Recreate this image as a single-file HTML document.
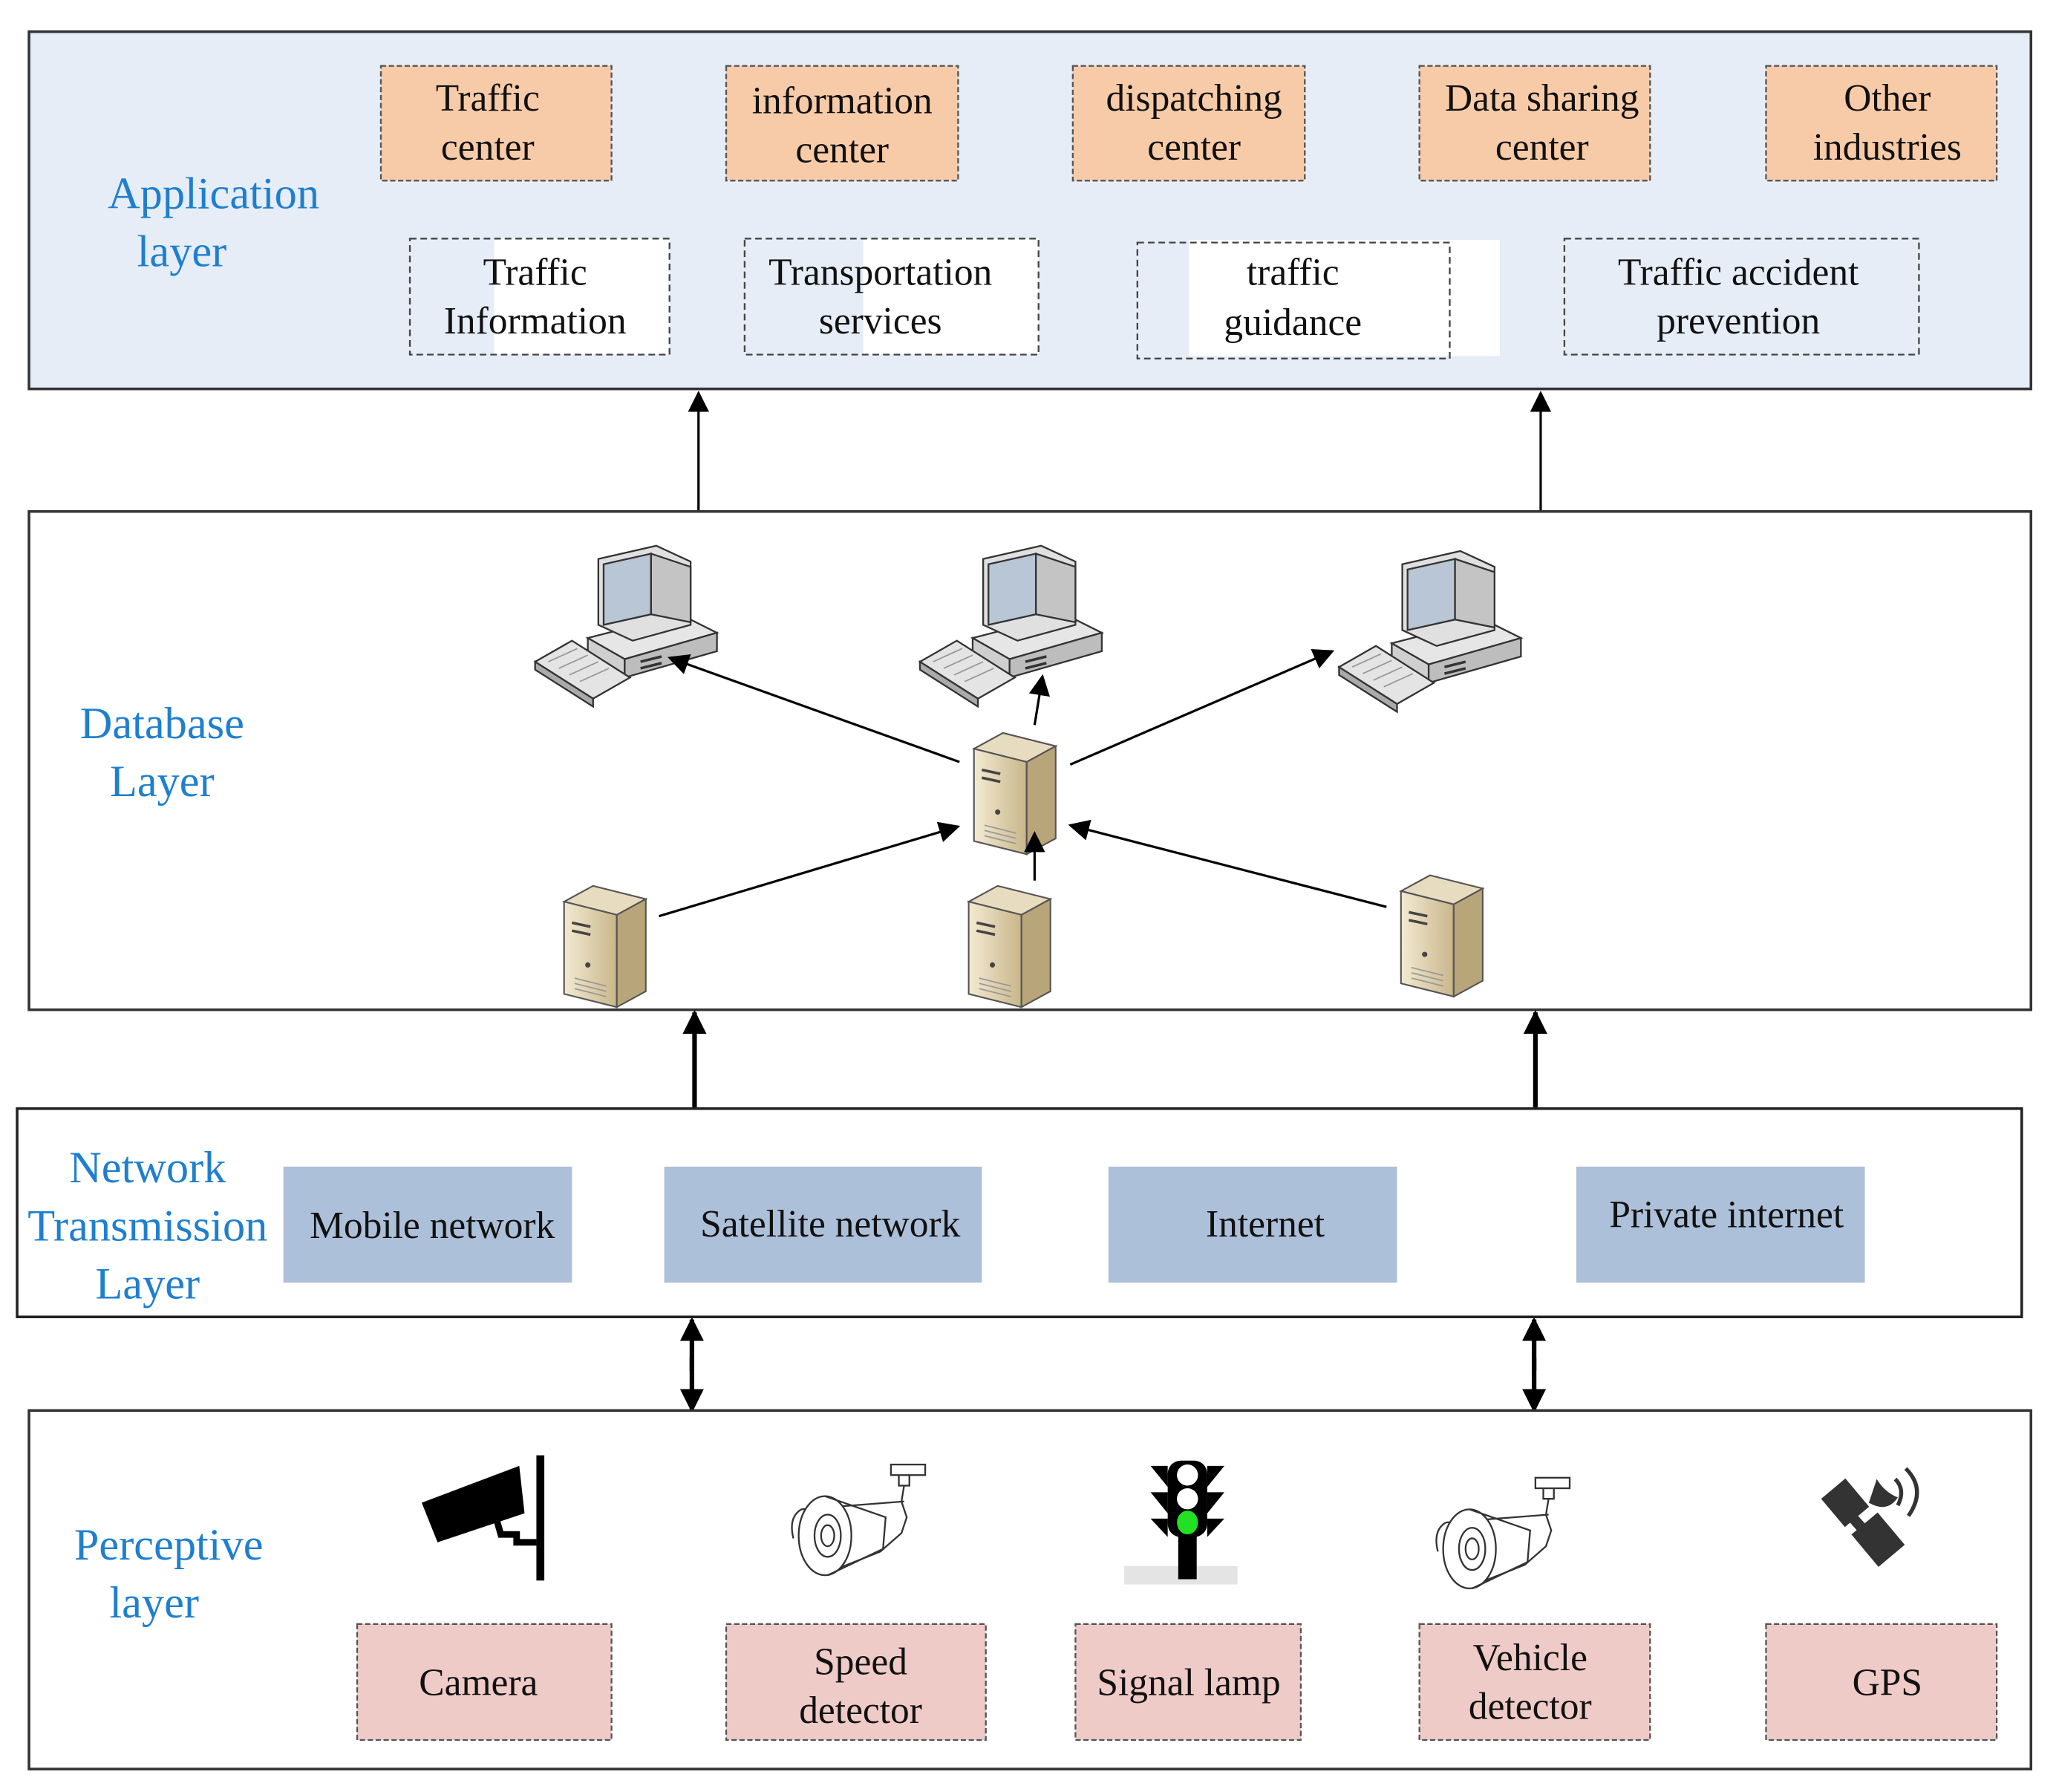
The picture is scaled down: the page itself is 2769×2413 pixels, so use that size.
<!DOCTYPE html>
<html><head><meta charset="utf-8"><style>
html,body{margin:0;padding:0;background:#fff}
svg{display:block}
text{font-family:"Liberation Serif","Times New Roman",serif;fill:#111}
.lb{fill:#1f7fcf;font-size:34px}
.bt{font-size:29px}
</style></head><body>
<svg width="2769" height="2413" viewBox="0 0 1560 1359.4" xmlns="http://www.w3.org/2000/svg">
<defs>
<marker id="ah2" viewBox="0 0 10 10" refX="9" refY="5" markerWidth="22" markerHeight="16" markerUnits="userSpaceOnUse" orient="auto"><path d="M0,0 L10,5 L0,10 z" fill="#000"/></marker>
<marker id="ah3" viewBox="0 0 10 10" refX="9" refY="5" markerWidth="32" markerHeight="18" markerUnits="userSpaceOnUse" orient="auto"><path d="M0,0 L10,5 L0,10 z" fill="#000"/></marker>
<linearGradient id="sv" x1="0" x2="1"><stop offset="0" stop-color="#f3ead2"/><stop offset="1" stop-color="#c9b68a"/></linearGradient>
<g id="server">
<path d="M0,12 L22,0 L62,10 L40,22 z" fill="#e8dcc0" stroke="#555" stroke-width="1.2"/>
<path d="M0,12 L40,22 L40,92 L0,82 z" fill="url(#sv)" stroke="#555" stroke-width="1.2"/>
<path d="M40,22 L62,10 L62,80 L40,92 z" fill="#b9a57a" stroke="#555" stroke-width="1.2"/>
<path d="M6,28 L20,31 M6,34 L20,37" stroke="#444" stroke-width="2"/>
<circle cx="18" cy="60" r="2" fill="#444"/>
<path d="M8,70 L32,76 M8,74 L32,80 M8,78 L32,84" stroke="#999" stroke-width="1"/>
</g>
<g id="pc">
<path d="M40,70 L110,52 L138,66 L68,86 z" fill="#e6e6e6" stroke="#333" stroke-width="1.3"/>
<path d="M40,70 L68,86 L68,100 L40,84 z" fill="#cfcfcf" stroke="#333" stroke-width="1.3"/>
<path d="M68,86 L138,66 L138,80 L68,100 z" fill="#bdbdbd" stroke="#333" stroke-width="1.3"/>
<path d="M48,10 L92,0 L118,12 L118,60 L74,72 L48,60 z" fill="#e0e0e0" stroke="#333" stroke-width="1.3"/>
<path d="M52,14 L88,6 L88,52 L52,60 z" fill="#b8c6d6" stroke="#333" stroke-width="1.3"/>
<path d="M88,6 L118,16 L118,58 L88,52 z" fill="#c4c4c4" stroke="#333" stroke-width="1.3"/>
<path d="M80,88 L96,84 M80,93 L96,89" stroke="#333" stroke-width="2"/>
<path d="M0,88 L28,72 L72,100 L44,116 z" fill="#e4e4e4" stroke="#333" stroke-width="1.3"/>
<path d="M0,88 L44,116 L44,122 L0,94 z" fill="#aaa" stroke="#333" stroke-width="1.3"/>
<path d="M10,88 L32,78 M18,93 L40,83 M26,98 L48,88 M34,103 L56,93" stroke="#999" stroke-width="1"/>
</g>
<g id="bullet" fill="none" stroke="#333" stroke-width="1.3">
<rect x="78" y="0" width="26" height="8" fill="#fff"/>
<path d="M84,8 L84,16 L92,16 L92,8 M88,16 L86,28 L90,40 L86,52 L70,66 L40,78"/>
<path d="M10,34 L88,28 M10,34 Q0,40 4,56"/>
<ellipse cx="28" cy="54" rx="20" ry="30" fill="#fff"/>
<ellipse cx="30" cy="54" rx="10" ry="16"/>
<ellipse cx="30" cy="54" rx="5" ry="8"/>
<path d="M28,24 L74,40 L72,64 L30,84"/>
</g>
</defs>

<rect x="22" y="24" width="1519" height="271" fill="#e6edf7" stroke="#333" stroke-width="2"/>
<g fill="#f8cba8" stroke="#555" stroke-width="1.3" stroke-dasharray="4,2">
<rect x="289" y="50" width="175" height="87"/><rect x="551" y="50" width="176" height="87"/><rect x="814" y="50" width="176" height="87"/><rect x="1077" y="50" width="175" height="87"/><rect x="1340" y="50" width="175" height="87"/>
</g>
<g fill="#fff">
<rect x="375" y="181" width="133" height="88"/><rect x="655" y="181" width="133" height="88"/><rect x="902" y="182" width="236" height="88"/>
</g>
<g fill="none" stroke="#444" stroke-width="1.3" stroke-dasharray="5,3">
<rect x="311" y="181" width="197" height="88"/><rect x="565" y="181" width="223" height="88"/><rect x="863" y="184" width="237" height="88"/><rect x="1187" y="181" width="269" height="88"/>
</g>
<g class="bt" text-anchor="middle">
<text x="370" y="84">Traffic</text><text x="370" y="121">center</text>
<text x="639" y="86">information</text><text x="639" y="123">center</text>
<text x="906" y="84">dispatching</text><text x="906" y="121">center</text>
<text x="1170" y="84">Data sharing</text><text x="1170" y="121">center</text>
<text x="1432" y="84">Other</text><text x="1432" y="121">industries</text>
<text x="406" y="216">Traffic</text><text x="406" y="253">Information</text>
<text x="668" y="216">Transportation</text><text x="668" y="253">services</text>
<text x="981" y="216">traffic</text><text x="981" y="254">guidance</text>
<text x="1319" y="216">Traffic accident</text><text x="1319" y="253">prevention</text>
</g>
<text class="lb" x="162" y="158" text-anchor="middle">Application</text>
<text class="lb" x="138" y="202" text-anchor="middle">layer</text>

<g stroke="#000" stroke-width="1.8">
<line x1="530" y1="388" x2="530" y2="298" marker-end="url(#ah2)"/>
<line x1="1169" y1="388" x2="1169" y2="298" marker-end="url(#ah2)"/>
</g>

<rect x="22" y="388" width="1519" height="378" fill="#fff" stroke="#333" stroke-width="2"/>
<text class="lb" x="123" y="560" text-anchor="middle">Database</text>
<text class="lb" x="123" y="604" text-anchor="middle">Layer</text>
<use href="#pc" x="406" y="414"/>
<use href="#pc" x="698" y="414"/>
<use href="#pc" x="1016" y="418"/>
<use href="#server" x="739" y="556"/>
<use href="#server" x="428" y="672"/>
<use href="#server" x="735" y="672"/>
<use href="#server" x="1063" y="664"/>
<g stroke="#000" stroke-width="1.8">
<line x1="728" y1="578" x2="508" y2="499" marker-end="url(#ah2)"/>
<line x1="785" y1="550" x2="791" y2="513" marker-end="url(#ah2)"/>
<line x1="812" y1="580" x2="1011" y2="494" marker-end="url(#ah2)"/>
<line x1="500" y1="695" x2="727" y2="627" marker-end="url(#ah2)"/>
<line x1="785" y1="668" x2="785" y2="632" marker-end="url(#ah2)"/>
<line x1="1052" y1="688" x2="812" y2="626" marker-end="url(#ah2)"/>
</g>

<g stroke="#000" stroke-width="3.5">
<line x1="527" y1="842" x2="527" y2="768" marker-end="url(#ah3)"/>
<line x1="1165" y1="842" x2="1165" y2="768" marker-end="url(#ah3)"/>
</g>

<rect x="13" y="841" width="1521" height="158" fill="#fff" stroke="#222" stroke-width="2"/>
<g fill="#adc0d9"><rect x="215" y="885" width="219" height="88"/><rect x="504" y="885" width="241" height="88"/><rect x="841" y="885" width="219" height="88"/><rect x="1196" y="885" width="219" height="88"/></g>
<g class="bt" text-anchor="middle">
<text x="328" y="939">Mobile network</text><text x="630" y="938">Satellite network</text><text x="960" y="938">Internet</text><text x="1310" y="931">Private internet</text>
</g>
<text class="lb" x="112" y="897" text-anchor="middle">Network</text>
<text class="lb" x="112" y="941" text-anchor="middle">Transmission</text>
<text class="lb" x="112" y="985" text-anchor="middle">Layer</text>

<g stroke="#000" stroke-width="3.5">
<line x1="525" y1="1040" x2="525" y2="1001" marker-end="url(#ah3)"/>
<line x1="525" y1="1030" x2="525" y2="1070" marker-end="url(#ah3)"/>
<line x1="1164" y1="1040" x2="1164" y2="1001" marker-end="url(#ah3)"/>
<line x1="1164" y1="1030" x2="1164" y2="1070" marker-end="url(#ah3)"/>
</g>

<rect x="22" y="1070" width="1519" height="272" fill="#fff" stroke="#333" stroke-width="2"/>
<text class="lb" x="128" y="1183" text-anchor="middle">Perceptive</text>
<text class="lb" x="117" y="1227" text-anchor="middle">layer</text>
<g fill="#efcbc8" stroke="#555" stroke-width="1.3" stroke-dasharray="4,2">
<rect x="271" y="1232" width="193" height="88"/><rect x="551" y="1232" width="197" height="88"/><rect x="816" y="1232" width="171" height="88"/><rect x="1077" y="1232" width="175" height="88"/><rect x="1340" y="1232" width="175" height="88"/>
</g>
<g class="bt" text-anchor="middle">
<text x="363" y="1286">Camera</text>
<text x="653" y="1270">Speed</text><text x="653" y="1307">detector</text>
<text x="902" y="1286">Signal lamp</text>
<text x="1161" y="1267">Vehicle</text><text x="1161" y="1304">detector</text>
<text x="1432" y="1286">GPS</text>
</g>
<rect x="407" y="1104" width="6" height="95" fill="#000"/>
<path d="M320,1140 L394,1112 L398,1148 L332,1170 z" fill="#000"/>
<path d="M376,1150 L380,1164 L392,1164 L392,1170 L407,1170" stroke="#000" stroke-width="5" fill="none"/>
<use href="#bullet" x="598" y="1111"/>
<use href="#bullet" x="1087" y="1121"/>
<rect x="853" y="1188" width="86" height="14" fill="#e4e4e4"/>
<rect x="894" y="1160" width="14" height="38" fill="#000"/>
<rect x="886" y="1108" width="30" height="58" rx="10" fill="#000"/>
<path d="M873,1112 L886,1112 L886,1128 z M929,1112 L916,1112 L916,1128 z M873,1132 L886,1132 L886,1148 z M929,1132 L916,1132 L916,1148 z M873,1152 L886,1152 L886,1166 z M929,1152 L916,1152 L916,1166 z" fill="#000"/>
<ellipse cx="901" cy="1119" rx="8" ry="8" fill="#fff"/>
<ellipse cx="901" cy="1137" rx="8" ry="8" fill="#fff"/>
<ellipse cx="901" cy="1155" rx="8" ry="9" fill="#22e022"/>
<g fill="#333">
<rect x="1388" y="1126" width="24" height="28" transform="rotate(-40 1400 1140)"/>
<rect x="1412" y="1152" width="26" height="32" transform="rotate(-40 1425 1168)"/>
<path d="M1400,1145 L1418,1165" stroke="#333" stroke-width="8"/>
<path d="M1418,1140 Q1432,1148 1440,1136 Q1430,1132 1424,1122 z"/>
<path d="M1438,1122 Q1446,1130 1440,1142" stroke="#333" stroke-width="3" fill="none"/>
<path d="M1446,1114 Q1462,1130 1448,1150" stroke="#333" stroke-width="3" fill="none"/>
</g>
</svg>
</body></html>
